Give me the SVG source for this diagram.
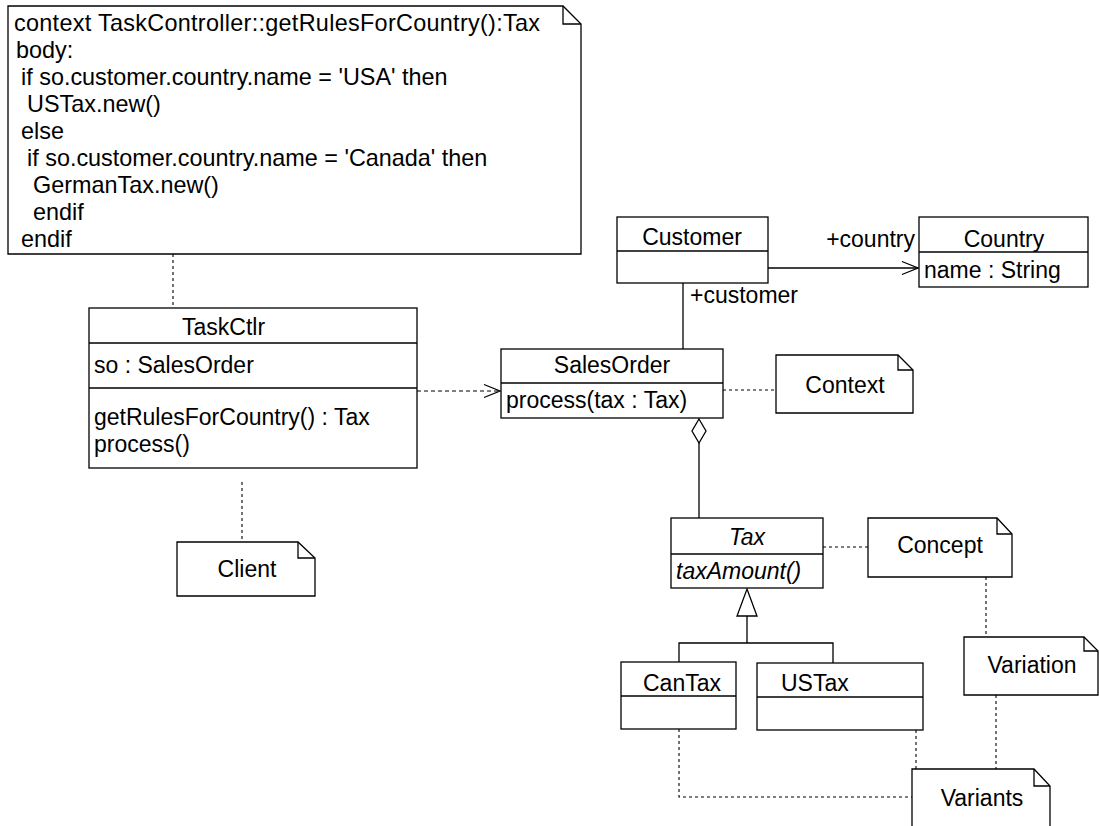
<svg xmlns="http://www.w3.org/2000/svg" width="1099" height="826" viewBox="0 0 1099 826">
  <style>
    text { font-family: "Liberation Sans", Arial, sans-serif; font-size: 23px; fill: #000; }
    .ocl { font-size: 23.4px; }
    .mid { text-anchor: middle; }
    .it { font-style: italic; }
    .box { fill: #fff; stroke: #000; stroke-width: 1.3; }
    .sep { stroke: #000; stroke-width: 1.3; fill: none; }
    .fold { fill: none; stroke: #000; stroke-width: 1.3; }
    .solid { fill: none; stroke: #000; stroke-width: 1.3; }
    .dash { fill: none; stroke: #000; stroke-width: 1.1; stroke-dasharray: 3 3; }
    .dep { fill: none; stroke: #000; stroke-width: 1.1; stroke-dasharray: 4 3; }
  </style>
  <defs>
    <marker id="open" markerUnits="userSpaceOnUse" markerWidth="18" markerHeight="18" refX="16" refY="8" orient="auto" overflow="visible">
      <path d="M0,1.5 L16,8 L0,14.5" fill="none" stroke="#000" stroke-width="1.3"/>
    </marker>
  </defs>

  <!-- connectors -->
  <g id="connectors">
    <!-- note anchors -->
    <path class="dash" d="M173,254 V308"/>
    <path class="dash" d="M242,482 V542"/>
    <path class="dash" d="M723,390 H776"/>
    <path class="dash" d="M823,547 H868"/>
    <path class="dash" d="M986,577 V637"/>
    <path class="dash" d="M996,695 V769"/>
    <path class="dash" d="M916,730 V769"/>
    <path class="dash" d="M679,729 V797 H912"/>
    <!-- dependency TaskCtlr -> SalesOrder -->
    <path class="dep" d="M417,391 H500" marker-end="url(#open)"/>
    <!-- association Customer -> Country -->
    <path class="solid" d="M768,268 H918" marker-end="url(#open)"/>
    <text x="915" y="247" text-anchor="end">+country</text>
    <!-- association Customer - SalesOrder -->
    <path class="solid" d="M683,283 V349"/>
    <text x="690" y="303">+customer</text>
    <!-- aggregation SalesOrder <>- Tax -->
    <path class="solid" d="M699,443 V518"/>
    <path class="box" d="M699,419 L706,431 L699,443 L692,431 Z"/>
    <!-- generalization -->
    <path class="solid" d="M747,616 V643 M679,662 V643 H833 V663"/>
    <path class="box" d="M747,589 L757,616 L737,616 Z"/>
  </g>

  <!-- OCL note -->
  <g id="note-ocl">
    <path class="box" d="M8,6 H563 L581,24 V254 H8 Z"/>
    <path class="fold" d="M563,6 V24 H581"/>
    <text class="ocl" x="14" y="31" textLength="526">context TaskController::getRulesForCountry():Tax</text>
    <text class="ocl" x="16" y="58">body:</text>
    <text class="ocl" x="21" y="85">if so.customer.country.name = 'USA' then</text>
    <text class="ocl" x="27" y="112">USTax.new()</text>
    <text class="ocl" x="21" y="139">else</text>
    <text class="ocl" x="27" y="166">if so.customer.country.name = 'Canada' then</text>
    <text class="ocl" x="33" y="193">GermanTax.new()</text>
    <text class="ocl" x="33" y="220">endif</text>
    <text class="ocl" x="21" y="247">endif</text>
  </g>

  <!-- TaskCtlr class -->
  <g id="taskctlr">
    <rect class="box" x="89" y="308" width="328" height="160"/>
    <path class="sep" d="M89,343 H417 M89,388 H417"/>
    <text x="182" y="335">TaskCtlr</text>
    <text x="94" y="373">so : SalesOrder</text>
    <text x="94" y="425">getRulesForCountry() : Tax</text>
    <text x="94" y="452">process()</text>
  </g>

  <!-- Client note -->
  <g id="note-client">
    <path class="box" d="M177,542 H298 L315,558 V596 H177 Z"/>
    <path class="fold" d="M298,542 V558 H315"/>
    <text class="mid" x="247" y="577">Client</text>
  </g>

  <!-- Customer class -->
  <g id="customer">
    <rect class="box" x="617" y="217" width="151" height="66"/>
    <path class="sep" d="M617,251 H768"/>
    <text class="mid" x="692" y="245">Customer</text>
  </g>

  <!-- Country class -->
  <g id="country">
    <rect class="box" x="919" y="217" width="169" height="70"/>
    <path class="sep" d="M919,252 H1088"/>
    <text class="mid" x="1004" y="247">Country</text>
    <text x="924" y="278">name : String</text>
  </g>

  <!-- SalesOrder class -->
  <g id="salesorder">
    <rect class="box" x="501" y="349" width="222" height="69"/>
    <path class="sep" d="M501,383 H723"/>
    <text class="mid" x="612" y="373">SalesOrder</text>
    <text x="506" y="408">process(tax : Tax)</text>
  </g>

  <!-- Context note -->
  <g id="note-context">
    <path class="box" d="M776,355 H898 L913,370 V413 H776 Z"/>
    <path class="fold" d="M898,355 V370 H913"/>
    <text class="mid" x="845" y="393">Context</text>
  </g>

  <!-- Tax abstract class -->
  <g id="tax">
    <rect class="box" x="671" y="518" width="152" height="70"/>
    <path class="sep" d="M671,554 H823"/>
    <text class="mid it" x="747" y="545">Tax</text>
    <text class="it" x="676" y="579">taxAmount()</text>
  </g>

  <!-- Concept note -->
  <g id="note-concept">
    <path class="box" d="M868,518 H997 L1012,534 V577 H868 Z"/>
    <path class="fold" d="M997,518 V534 H1012"/>
    <text class="mid" x="940" y="553">Concept</text>
  </g>

  <!-- CanTax class -->
  <g id="cantax">
    <rect class="box" x="621" y="662" width="115" height="67"/>
    <path class="sep" d="M621,696 H736"/>
    <text x="643" y="691">CanTax</text>
  </g>

  <!-- USTax class -->
  <g id="ustax">
    <rect class="box" x="757" y="663" width="166" height="67"/>
    <path class="sep" d="M757,697 H923"/>
    <text x="781" y="691">USTax</text>
  </g>

  <!-- Variation note -->
  <g id="note-variation">
    <path class="box" d="M964,637 H1084 L1098,651 V695 H964 Z"/>
    <path class="fold" d="M1084,637 V651 H1098"/>
    <text class="mid" x="1032" y="673">Variation</text>
  </g>

  <!-- Variants note -->
  <g id="note-variants">
    <path class="box" d="M912,769 H1034 L1050,786 V840 H912 Z"/>
    <path class="fold" d="M1034,769 V786 H1050"/>
    <text class="mid" x="982" y="806">Variants</text>
  </g>
</svg>
